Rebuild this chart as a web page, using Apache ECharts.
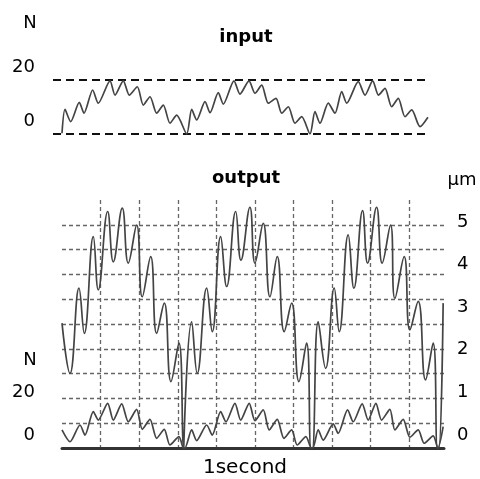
<!DOCTYPE html>
<html><head><meta charset="utf-8">
<script src="https://cdn.jsdelivr.net/npm/echarts@6/dist/echarts.min.js"></script>
<style>html,body{margin:0;padding:0;background:#fff}#c{width:480px;height:479px}</style>
</head><body><div id="c"></div>
<script>
// time axis in grid divisions
const inputT = [0.0,0.078,0.225,0.448,0.570,0.795,0.940,1.244,1.373,1.588,1.744,1.951,2.106,2.280,2.453,2.624,2.798,2.971,3.231,
  3.360,3.490,3.705,3.834,4.049,4.179,4.456,4.611,4.845,5.000,5.174,5.344,5.544,5.692,5.863,6.036,6.210,6.425,
  6.554,6.684,6.899,7.073,7.246,7.376,7.676,7.850,8.049,8.199,8.368,8.541,8.712,8.886,9.060,9.275,9.480];
const inputN = [0.3,9.1,4.6,11.7,7.7,16.3,11.4,19.7,14.4,19.7,14.4,17.5,10.7,13.8,7.7,10.7,4.0,7.0,0.0,
  9.1,5.2,12.0,7.9,15.3,11.1,19.7,14.8,19.7,15.1,18.1,11.4,13.2,7.7,10.1,4.0,6.4,0.0,
  8.3,4.0,11.4,7.7,15.7,11.4,19.4,14.4,19.7,14.4,16.9,10.1,13.2,6.4,8.9,2.7,6.2];

const outT = [0.000,0.207,0.440,0.578,0.811,0.940,1.184,1.329,1.562,1.718,1.935,2.080,2.298,2.453,2.650,2.824,3.031,3.155,3.170,
  3.360,3.505,3.749,3.894,4.111,4.267,4.500,4.637,4.870,5.000,5.215,5.389,5.578,5.759,5.951,6.140,6.339,6.451,6.490,
  6.640,6.832,7.054,7.184,7.417,7.565,7.790,7.920,8.153,8.298,8.515,8.627,8.868,9.016,9.231,9.422,9.619,9.728,9.767,9.878];
const outUm = [2.93,1.75,3.75,2.69,4.96,3.71,5.55,4.37,5.63,4.34,5.23,3.55,4.49,2.69,3.40,1.56,2.46,0.0,0.0,
  2.96,1.75,3.75,2.73,4.96,3.79,5.55,4.41,5.65,4.34,5.27,3.55,4.49,2.73,3.40,1.56,2.46,0.0,0.0,
  2.96,1.87,3.75,2.73,5.00,3.75,5.57,4.34,5.65,4.34,5.23,3.51,4.49,2.77,3.44,1.60,2.46,0.0,0.0,3.40];

const copyT = [0.0,0.207,0.466,0.596,0.811,0.940,1.184,1.329,1.547,1.718,1.935,2.080,2.280,2.453,2.650,2.798,3.031,3.148,
  3.187,3.360,3.490,3.749,3.894,4.111,4.249,4.482,4.630,4.852,5.000,5.215,5.370,5.578,5.751,5.951,6.096,6.321,6.464,
  6.503,6.640,6.769,7.028,7.158,7.401,7.547,7.780,7.935,8.135,8.282,8.497,8.627,8.842,9.016,9.231,9.386,9.619,9.741,9.878];
const copyN = [8.4,2.9,10.7,6.0,16.9,13.0,20.8,13.0,20.5,12.2,18.0,8.7,13.3,4.5,8.7,1.4,5.3,0.0,
  0.0,8.4,3.4,10.7,6.0,16.9,12.2,20.8,13.0,20.8,12.7,17.7,8.4,13.3,4.5,8.4,1.4,5.3,0.0,
  0.0,8.4,3.7,11.2,6.8,17.7,12.2,20.5,13.0,20.8,13.0,18.0,8.4,13.3,5.0,8.4,2.2,5.6,0.0,9.9];

const inputTicks = [0, 20];
const umTicks = [0, 1, 2, 3, 4, 5];
const copyTicks = [0, 20];
const texts = { inTitle: 'input', outTitle: 'output', n: 'N', um: 'µm', time: '1second' };

const FONT = '"DejaVu Sans", sans-serif';
const zip = (a, b) => a.map((v, i) => [v, b[i]]);
const lbl = (margin, list) => ({
  show: true, margin, fontSize: 18, fontFamily: FONT, color: '#000',
  verticalAlign: 'bottom', lineHeight: 26,
  formatter: v => list.some(t => Math.abs(t - v) < 1e-9) ? String(v) : ''
});
const none = { show: false };

const chart = echarts.init(document.getElementById('c'), null, { renderer: 'canvas' });
chart.setOption({
  animation: false,
  backgroundColor: '#fff',
  grid: [
    { left: 53, right: 52, top: 80, bottom: 345 },
    { left: 62, right: 36, top: 200, bottom: 31 }
  ],
  xAxis: [
    { gridIndex: 0, type: 'value', min: -0.233, max: 9.482, show: false },
    { gridIndex: 1, type: 'value', min: 0, max: 9.9, interval: 1,
      axisLine: { show: true, onZero: false, lineStyle: { color: '#333', width: 3 } },
      axisTick: none, axisLabel: none,
      splitLine: { show: true, showMinLine: false, showMaxLine: false,
        lineStyle: { color: '#666', width: 1.3, type: [4, 3] } } }
  ],
  yAxis: [
    { gridIndex: 0, type: 'value', min: 0, max: 20, interval: 20,
      axisLine: none, axisTick: none, axisLabel: lbl(18, inputTicks),
      splitLine: { show: true, lineStyle: { color: '#111', width: 2, type: [8, 5] } } },
    { gridIndex: 1, type: 'value', min: 0, max: 10, interval: 1, position: 'left',
      axisLine: none, axisTick: none, axisLabel: none,
      splitLine: { show: true, showMinLine: false, showMaxLine: false,
        lineStyle: { color: '#666', width: 1.3, type: [4, 3] } } },
    { gridIndex: 1, type: 'value', min: 0, max: 5.82, interval: 1, position: 'right',
      axisLine: none, axisTick: none, splitLine: none,
      axisLabel: Object.assign(lbl(13, umTicks), { showMaxLabel: false }) },
    { gridIndex: 1, type: 'value', min: 0, max: 115.35, interval: 20, position: 'left',
      axisLine: none, axisTick: none, splitLine: none,
      axisLabel: Object.assign(lbl(27, copyTicks), { showMaxLabel: false }) }
  ],
  series: [
    { type: 'line', xAxisIndex: 0, yAxisIndex: 0, data: zip(inputT, inputN), showSymbol: false,
      smooth: 0.25, lineStyle: { color: '#444', width: 1.7 } },
    { type: 'line', xAxisIndex: 1, yAxisIndex: 2, data: zip(outT, outUm), showSymbol: false,
      smooth: 0.45, lineStyle: { color: '#444', width: 1.7 } },
    { type: 'line', xAxisIndex: 1, yAxisIndex: 3, data: zip(copyT, copyN), showSymbol: false,
      smooth: 0.25, lineStyle: { color: '#444', width: 1.7 } }
  ],
  graphic: [
    { type: 'text', x: 30, y: 23, style: { text: texts.n, font: '18px ' + FONT, fill: '#000', textAlign: 'center', textVerticalAlign: 'middle' } },
    { type: 'text', x: 246, y: 37, style: { text: texts.inTitle, font: 'bold 18px ' + FONT, fill: '#000', textAlign: 'center', textVerticalAlign: 'middle' } },
    { type: 'text', x: 246, y: 178, style: { text: texts.outTitle, font: 'bold 18px ' + FONT, fill: '#000', textAlign: 'center', textVerticalAlign: 'middle' } },
    { type: 'text', x: 462, y: 180, style: { text: texts.um, font: '18px ' + FONT, fill: '#000', textAlign: 'center', textVerticalAlign: 'middle' } },
    { type: 'text', x: 30, y: 360, style: { text: texts.n, font: '18px ' + FONT, fill: '#000', textAlign: 'center', textVerticalAlign: 'middle' } },
    { type: 'text', x: 245, y: 468, style: { text: texts.time, font: '20px ' + FONT, fill: '#000', textAlign: 'center', textVerticalAlign: 'middle' } }
  ]
});
</script></body></html>
